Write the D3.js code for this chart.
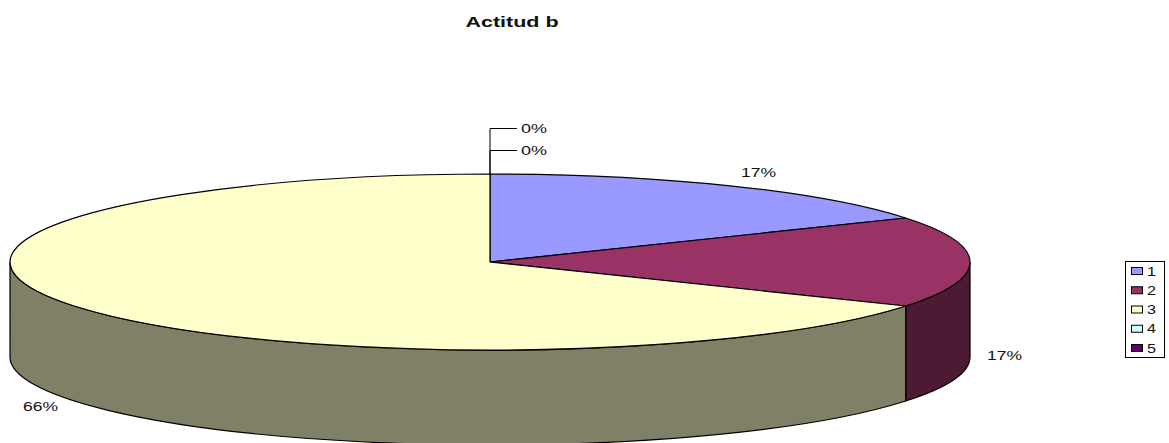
<!DOCTYPE html>
<html>
<head>
<meta charset="utf-8">
<title>Actitud b</title>
<script src="https://cdn.jsdelivr.net/npm/d3@7"></script>
<style>
  html, body { margin: 0; padding: 0; background: #fff; overflow: hidden; }
  text { font-family: "Liberation Sans", Arial, sans-serif; fill: #111; }
</style>
</head>
<body>
<div id="chart"></div>
<script>
// chart data (percent)
const categories = ["1", "2", "3", "4", "5"];
const values = [16.6, 16.6, 66.4, 0, 0];
const sliceColors = ["#9999FF", "#993366", "#FFFFCC", "#CCFFFF", "#660066"];
const chartTitle = "Actitud b";

const width = 1169,
    height = 443;

// ellipse of the pie top, and how far the wall goes down
const cx = 490,
    cy = 262,
    rx = 480,
    ry = 88,
    depth = 95;

const svg = d3.select("#chart")
    .append("svg")
    .attr("width", width)
    .attr("height", height)
    .style("display", "block");

// Compute the position of each group on the pie (no sorting, starts at 12 o'clock)
const pie = d3.pie().sort(null).value(d => d);
const slices = pie(values);

const pct = d => d3.format(".0f")(d) + "%";

// darker shade for the walls, same as half of the slice colour
const shade = c => {
    const r = d3.rgb(c);
    return d3.rgb(r.r / 2 + 0.1, r.g / 2 + 0.1, r.b / 2 + 0.1).formatHex();
};

const px = a => cx + rx * Math.sin(a);
const py = a => cy - ry * Math.cos(a);

// wall of a slice, only the part that faces front (angles PI/2 to 3PI/2)
function wallPath(d) {
    const a0 = Math.max(d.startAngle, Math.PI / 2),
        a1 = Math.min(d.endAngle, 3 * Math.PI / 2);
    if (a1 <= a0) return null;
    const large = a1 - a0 > Math.PI ? 1 : 0;
    return `M${px(a0)},${py(a0)}`
        + `A${rx},${ry} 0 ${large} 1 ${px(a1)},${py(a1)}`
        + `L${px(a1)},${py(a1) + depth}`
        + `A${rx},${ry} 0 ${large} 0 ${px(a0)},${py(a0) + depth}Z`;
}

svg.selectAll("path.wall")
    .data(slices.filter(d => d.value > 0))
    .join("path")
    .attr("class", "wall")
    .attr("d", wallPath)
    .attr("fill", d => shade(sliceColors[d.index]))
    .attr("stroke", "#000")
    .attr("stroke-width", 1.2);

// top of the pie: normal arc squashed into the ellipse
const arcGenerator = d3.arc().innerRadius(0).outerRadius(rx);

svg.append("g")
    .attr("transform", `translate(${cx},${cy}) scale(1,${ry / rx})`)
    .selectAll("path")
    .data(slices.filter(d => d.value > 0))
    .join("path")
    .attr("d", arcGenerator)
    .attr("fill", d => sliceColors[d.index])
    .attr("stroke", "#000")
    .attr("stroke-width", 1.2)
    .attr("vector-effect", "non-scaling-stroke");

// Title
svg.append("text")
    .attr("x", 512)
    .attr("y", 27)
    .attr("text-anchor", "middle")
    .attr("textLength", 93)
    .attr("lengthAdjust", "spacingAndGlyphs")
    .style("font-size", "14px")
    .style("font-weight", "bold")
    .text(chartTitle);

// label places, by slice index
const labelPlaces = [
    { x: 741, y: 177 },
    { x: 987, y: 360 },
    { x: 23, y: 411 },
    { x: 521, y: 155 },
    { x: 521, y: 133 }
];

// leader lines of the empty slices
svg.selectAll("path.leader")
    .data(slices.filter(d => d.value === 0))
    .join("path")
    .attr("class", "leader")
    .attr("d", d => `M${cx},${cy - ry}V${labelPlaces[d.index].y - 4.5}H${labelPlaces[d.index].x - 4}`)
    .attr("fill", "none")
    .attr("stroke", "#000")
    .attr("stroke-width", 1);

svg.selectAll("text.pct")
    .data(slices)
    .join("text")
    .attr("class", "pct")
    .attr("x", d => labelPlaces[d.index].x)
    .attr("y", d => labelPlaces[d.index].y)
    .attr("textLength", d => d.value > 0 ? 35 : 26)
    .attr("lengthAdjust", "spacingAndGlyphs")
    .style("font-size", "13px")
    .text(d => pct(d.value));

// Add legend
const legendY = d3.scalePoint()
    .domain(categories)
    .range([271, 348]);

const legend = svg.append("g");

legend.append("rect")
    .attr("x", 1125.5)
    .attr("y", 261.5)
    .attr("width", 39)
    .attr("height", 96)
    .attr("fill", "#fff")
    .attr("stroke", "#000")
    .attr("stroke-width", 1);

categories.forEach((category, i) => {
    legend.append("rect")
        .attr("x", 1131.5)
        .attr("y", legendY(category) - 3.5)
        .attr("width", 11)
        .attr("height", 7)
        .attr("fill", sliceColors[i])
        .attr("stroke", "#000")
        .attr("stroke-width", 1);

    legend.append("text")
        .attr("x", 1147)
        .attr("y", legendY(category) + 4.5)
        .attr("textLength", 9)
        .attr("lengthAdjust", "spacingAndGlyphs")
        .style("font-size", "13px")
        .text(category);
});
</script>
</body>
</html>
